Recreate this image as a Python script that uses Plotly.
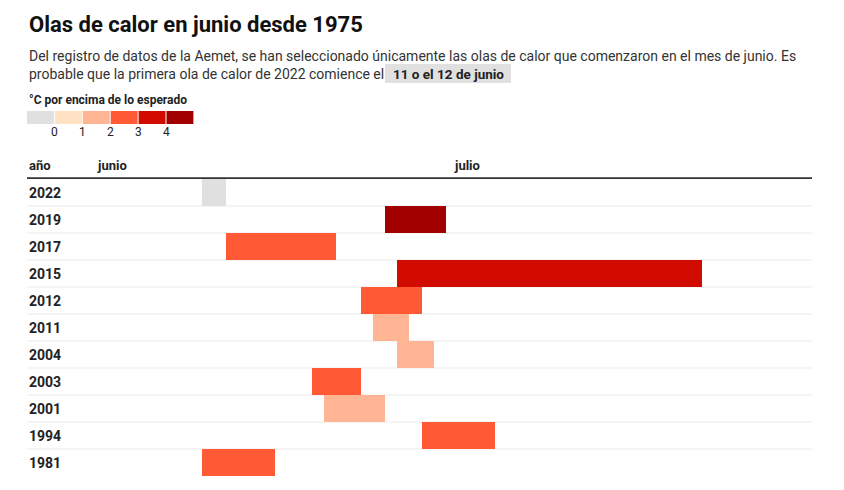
import pandas as pd
import plotly.graph_objects as go

# ---------------- data ----------------
years = ["2022", "2019", "2017", "2015", "2012", "2011", "2004", "2003", "2001", "1994", "1981"]
start_dates = ["2022-06-11", "2019-06-26", "2017-06-13", "2015-06-27", "2012-06-24",
               "2011-06-25", "2004-06-27", "2003-06-20", "2001-06-21", "1994-06-29", "1981-06-11"]
duration_days = [2, 5, 9, 25, 5, 3, 3, 4, 5, 6, 6]
# index of the legend bin (0 = gray/prevision, 1..5 = degrees above expected)
level_bin = [0, 5, 3, 4, 3, 2, 2, 3, 2, 3, 3]

legend_colors = ["#e0e0e0", "#ffe1c4", "#ffb594", "#ff5a35", "#d10b00", "#a20000"]
legend_ticks = ["0", "1", "2", "3", "4"]
month_labels = ["junio", "julio"]
month_starts = ["06-01", "07-01"]

# ---------------- derived ----------------
offsets = [(pd.Timestamp(d) - pd.Timestamp(d[:4] + "-06-01")).days for d in start_dates]
colors = [legend_colors[b] for b in level_bin]

W, H = 844, 490
L, R, T, B = 27, 812, 179, 476  # plot area in px
FONT = "Roboto"


def px(x):
    return (x - L) / (R - L)


def py(y):
    return (B - y) / (B - T)


fig = go.Figure()
fig.add_trace(go.Bar(
    y=years, x=duration_days, base=offsets, orientation="h",
    marker=dict(color=colors, line=dict(width=0)), width=1,
    hovertemplate="%{y}: %{x} días<extra></extra>",
))

shapes = []
annotations = []

# row separators
for i in range(len(years) - 1):
    shapes.append(dict(type="line", xref="paper", yref="y", x0=0, x1=1,
                       y0=i + 0.5, y1=i + 0.5, line=dict(color="#ebebeb", width=1),
                       layer="below"))
# top axis line
shapes.append(dict(type="line", xref="paper", yref="paper", x0=0, x1=1, y0=1.003, y1=1.003,
                   line=dict(color="#333333", width=1.6)))

# year labels
for i, yr in enumerate(years):
    annotations.append(dict(text="<b>" + yr + "</b>", xref="paper", yref="y", x=0, y=i,
                            xanchor="left", yanchor="middle", showarrow=False,
                            font=dict(family=FONT, size=14, color="#222222")))

# header
annotations.append(dict(text="<b>año</b>", xref="paper", yref="paper", x=0, y=py(165),
                        xanchor="left", yanchor="middle", showarrow=False,
                        font=dict(family=FONT, size=13, color="#222222")))
label_shift = [1.2, 0.5]
for lab, ms, sh in zip(month_labels, month_starts, label_shift):
    d = (pd.Timestamp("2022-" + ms) - pd.Timestamp("2022-06-01")).days
    annotations.append(dict(text="<b>" + lab + "</b>", xref="x", yref="paper", x=d + sh, y=py(165),
                            xanchor="left", yanchor="middle", showarrow=False,
                            font=dict(family=FONT, size=13, color="#222222")))

# title & subtitle
annotations.append(dict(text="<b>Olas de calor en junio desde 1975</b>", xref="paper", yref="paper",
                        x=0, y=py(25), xanchor="left", yanchor="middle", showarrow=False,
                        font=dict(family=FONT, size=22, color="#111111")))
annotations.append(dict(text="Del registro de datos de la Aemet, se han seleccionado únicamente las olas de calor que comenzaron en el mes de junio. Es",
                        xref="paper", yref="paper", x=0, y=py(56), xanchor="left", yanchor="middle",
                        showarrow=False, font=dict(family=FONT, size=14, color="#333333")))
annotations.append(dict(text="probable que la primera ola de calor de 2022 comience el",
                        xref="paper", yref="paper", x=0, y=py(74), xanchor="left", yanchor="middle",
                        showarrow=False, font=dict(family=FONT, size=14, color="#333333")))
shapes.append(dict(type="rect", xref="paper", yref="paper", x0=px(385), x1=px(511),
                   y0=py(83), y1=py(64), fillcolor="#e0e0e0", line=dict(width=0), layer="below"))
annotations.append(dict(text="<b>11 o el 12 de junio</b>", xref="paper", yref="paper",
                        x=px(448), y=py(74), xanchor="center", yanchor="middle", showarrow=False,
                        font=dict(family=FONT, size=13.5, color="#222222")))

# legend
annotations.append(dict(text="<b>°C por encima de lo esperado</b>", xref="paper", yref="paper",
                        x=0, y=py(100), xanchor="left", yanchor="middle", showarrow=False,
                        font=dict(family=FONT, size=12, color="#222222")))
bw = 27.9
for i, c in enumerate(legend_colors):
    x0 = L + i * bw
    shapes.append(dict(type="rect", xref="paper", yref="paper", x0=px(x0), x1=px(x0 + bw - 1),
                       y0=py(124), y1=py(111), fillcolor=c, line=dict(width=0)))
for i, t in enumerate(legend_ticks):
    annotations.append(dict(text=t, xref="paper", yref="paper", x=px(L + (i + 1) * bw - 0.5),
                            y=py(132), xanchor="center", yanchor="middle", showarrow=False,
                            font=dict(family=FONT, size=12, color="#222222")))

fig.update_layout(
    width=W, height=H, margin=dict(l=L, r=W - R, t=T, b=H - B, pad=0),
    paper_bgcolor="white", plot_bgcolor="white", showlegend=False,
    bargap=0, shapes=shapes, annotations=annotations,
    font=dict(family=FONT),
    xaxis=dict(range=[-(80 - L) / 12.2, 60], showgrid=False, zeroline=False, showticklabels=False,
               fixedrange=True),
    yaxis=dict(type="category", categoryorder="array", categoryarray=years,
               range=[len(years) - 0.5, -0.5],
               showgrid=False, zeroline=False, showticklabels=False, fixedrange=True),
)

fig.write_html("out.html", config={"displayModeBar": False},
               post_script="document.body.style.margin='0';document.body.style.overflow='hidden';")
